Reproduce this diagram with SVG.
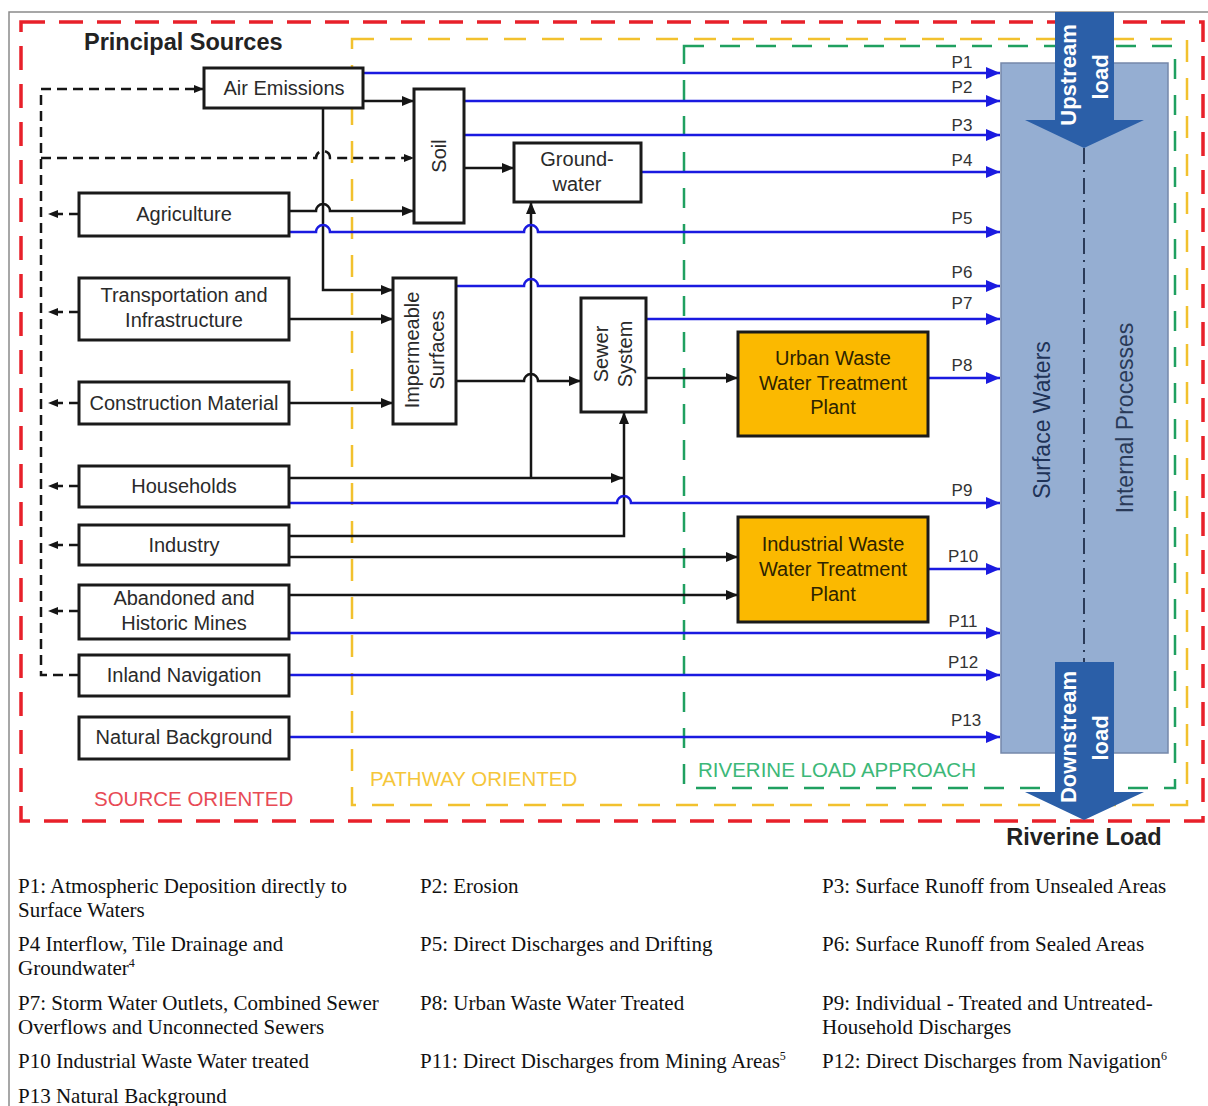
<svg xmlns="http://www.w3.org/2000/svg" width="1208" height="1106" viewBox="0 0 1208 1106">
<style>
.box{fill:#fff;stroke:#1a1a1a;stroke-width:3}
.plant{fill:#fbb900;stroke:#1a1a1a;stroke-width:3}
.t{font-family:"Liberation Sans",Arial,sans-serif;font-size:20px;fill:#2a2a2a;text-anchor:middle}
.tp{font-family:"Liberation Sans",Arial,sans-serif;font-size:20px;fill:#2e2300;text-anchor:middle}
.pl{font-family:"Liberation Sans",Arial,sans-serif;font-size:17px;fill:#333;text-anchor:middle}
.lg{font-family:"Liberation Serif","Times New Roman",serif;font-size:21px;fill:#111}
.k{fill:none;stroke:#151515;stroke-width:2.5}
.b{fill:none;stroke:#1a1ae0;stroke-width:2.5}
.d{fill:none;stroke:#151515;stroke-width:2.5;stroke-dasharray:10 6}
</style>
<defs>
<marker id="ak" viewBox="0 0 12 10" refX="12" refY="5" markerWidth="12" markerHeight="10" markerUnits="userSpaceOnUse" orient="auto"><path d="M0,0 L12,5 L0,10 z" fill="#151515"/></marker>
<marker id="ab" viewBox="0 0 14 12" refX="14" refY="6" markerWidth="14" markerHeight="12" markerUnits="userSpaceOnUse" orient="auto"><path d="M0,0 L14,6 L0,12 z" fill="#1a1ae0"/></marker>
<marker id="ad" viewBox="0 0 10 8" refX="10" refY="4" markerWidth="10" markerHeight="8" markerUnits="userSpaceOnUse" orient="auto"><path d="M0,0 L10,4 L0,8 z" fill="#151515"/></marker>
</defs>
<rect width="1208" height="1106" fill="#fff"/>
<rect x="9" y="12" width="1205" height="1100" fill="none" stroke="#8a8a8a" stroke-width="1.5"/>
<g id="frames" fill="none">
<rect x="21" y="22" width="1182" height="799" stroke="#e8202a" stroke-width="3.5" stroke-dasharray="24 14"/>
<rect x="352" y="39" width="835" height="766" stroke="#f2c12e" stroke-width="2.5" stroke-dasharray="22 16"/>
<rect x="684" y="46" width="491" height="742" stroke="#1fa060" stroke-width="2.5" stroke-dasharray="20 16"/>
</g>
<g id="surface-waters">
<rect x="1001" y="63" width="167" height="690" fill="#95aed2" stroke="#7688aa" stroke-width="1.5"/>
<path d="M1084 148 V662" fill="none" stroke="#2a3a58" stroke-width="2" stroke-dasharray="16 6 2 6"/>
<text transform="translate(1042,420) rotate(-90)" y="8" style="font-family:'Liberation Sans',Arial,sans-serif;font-size:23px;fill:#1f3358;text-anchor:middle">Surface Waters</text>
<text transform="translate(1125,418) rotate(-90)" y="8" style="font-family:'Liberation Sans',Arial,sans-serif;font-size:23px;fill:#2a3a58;text-anchor:middle">Internal Processes</text>
</g>
<g id="connectors">
<path class="k" d="M363 101 H414" marker-end="url(#ak)"/>
<path class="k" d="M323 108 V290 H393" marker-end="url(#ak)"/>
<path class="k" d="M289 211 H316 a7 7 0 0 1 14 0 H414" marker-end="url(#ak)"/>
<path class="k" d="M464 168 H514" marker-end="url(#ak)"/>
<path class="k" d="M289 319 H393" marker-end="url(#ak)"/>
<path class="k" d="M289 403 H393" marker-end="url(#ak)"/>
<path class="k" d="M456 381 H524 a7 7 0 0 1 14 0 H581" marker-end="url(#ak)"/>
<path class="k" d="M289 478 H623" marker-end="url(#ak)"/>
<path class="k" d="M531 478 V202" marker-end="url(#ak)"/>
<path class="k" d="M289 536 H624 V412" marker-end="url(#ak)"/>
<path class="k" d="M289 557 H738" marker-end="url(#ak)"/>
<path class="k" d="M289 595 H738" marker-end="url(#ak)"/>
<path class="k" d="M646 378 H738" marker-end="url(#ak)"/>
<path class="b" d="M363 73 H1000" marker-end="url(#ab)"/>
<path class="b" d="M464 101 H1000" marker-end="url(#ab)"/>
<path class="b" d="M464 135 H1000" marker-end="url(#ab)"/>
<path class="b" d="M641 172 H1000" marker-end="url(#ab)"/>
<path class="b" d="M289 232 H316 a7 7 0 0 1 14 0 H524 a7 7 0 0 1 14 0 H1000" marker-end="url(#ab)"/>
<path class="b" d="M456 286 H524 a7 7 0 0 1 14 0 H1000" marker-end="url(#ab)"/>
<path class="b" d="M646 319 H1000" marker-end="url(#ab)"/>
<path class="b" d="M928 378 H1000" marker-end="url(#ab)"/>
<path class="b" d="M289 503 H617 a7 7 0 0 1 14 0 H1000" marker-end="url(#ab)"/>
<path class="b" d="M928 569 H1000" marker-end="url(#ab)"/>
<path class="b" d="M289 633 H1000" marker-end="url(#ab)"/>
<path class="b" d="M289 675 H1000" marker-end="url(#ab)"/>
<path class="b" d="M289 737 H1000" marker-end="url(#ab)"/>
<path class="d" d="M79 675 H41 V89 H204" marker-end="url(#ad)"/>
<path class="d" d="M41 158 H316 a7 7 0 0 1 14 0 H414" marker-end="url(#ad)"/>
<path class="d" d="M79 214 H48" marker-end="url(#ad)"/>
<path class="d" d="M79 312 H48" marker-end="url(#ad)"/>
<path class="d" d="M79 403 H48" marker-end="url(#ad)"/>
<path class="d" d="M79 486 H48" marker-end="url(#ad)"/>
<path class="d" d="M79 545 H48" marker-end="url(#ad)"/>
<path class="d" d="M79 611 H48" marker-end="url(#ad)"/>
<text class="pl" x="962" y="68">P1</text>
<text class="pl" x="962" y="93">P2</text>
<text class="pl" x="962" y="131">P3</text>
<text class="pl" x="962" y="166">P4</text>
<text class="pl" x="962" y="224">P5</text>
<text class="pl" x="962" y="278">P6</text>
<text class="pl" x="962" y="309">P7</text>
<text class="pl" x="962" y="371">P8</text>
<text class="pl" x="962" y="496">P9</text>
<text class="pl" x="963" y="562">P10</text>
<text class="pl" x="963" y="627">P11</text>
<text class="pl" x="963" y="668">P12</text>
<text class="pl" x="966" y="726">P13</text>
</g>
<g id="air-emissions"><rect class="box" x="204" y="68" width="159" height="40"/><text class="t" x="284" y="95">Air Emissions</text></g>
<g id="agriculture"><rect class="box" x="79" y="193" width="210" height="43"/><text class="t" x="184" y="221">Agriculture</text></g>
<g id="transportation"><rect class="box" x="79" y="278" width="210" height="62"/><text class="t" x="184" y="302">Transportation and</text><text class="t" x="184" y="327">Infrastructure</text></g>
<g id="construction"><rect class="box" x="79" y="382" width="210" height="42"/><text class="t" x="184" y="410">Construction Material</text></g>
<g id="households"><rect class="box" x="79" y="466" width="210" height="41"/><text class="t" x="184" y="493">Households</text></g>
<g id="industry"><rect class="box" x="79" y="525" width="210" height="40"/><text class="t" x="184" y="552">Industry</text></g>
<g id="mines"><rect class="box" x="79" y="585" width="210" height="54"/><text class="t" x="184" y="605">Abandoned and</text><text class="t" x="184" y="630">Historic Mines</text></g>
<g id="navigation"><rect class="box" x="79" y="655" width="210" height="41"/><text class="t" x="184" y="682">Inland Navigation</text></g>
<g id="natural"><rect class="box" x="79" y="717" width="210" height="42"/><text class="t" x="184" y="744">Natural Background</text></g>
<g id="soil"><rect class="box" x="414" y="89" width="50" height="134"/><text class="t" transform="translate(439,156) rotate(-90)" y="7">Soil</text></g>
<g id="groundwater"><rect class="box" x="514" y="143" width="127" height="59"/><text class="t" x="577" y="166">Ground-</text><text class="t" x="577" y="191">water</text></g>
<g id="impermeable"><rect class="box" x="393" y="278" width="63" height="146"/><text class="t" transform="translate(412,350) rotate(-90)" y="7">Impermeable</text><text class="t" transform="translate(437,350) rotate(-90)" y="7">Surfaces</text></g>
<g id="sewer"><rect class="box" x="581" y="298" width="65" height="114"/><text class="t" transform="translate(601,354) rotate(-90)" y="7">Sewer</text><text class="t" transform="translate(625,354) rotate(-90)" y="7">System</text></g>
<g id="uwwtp"><rect class="plant" x="738" y="332" width="190" height="104"/><text class="tp" x="833" y="365">Urban Waste</text><text class="tp" x="833" y="390">Water Treatment</text><text class="tp" x="833" y="414">Plant</text></g>
<g id="iwwtp"><rect class="plant" x="738" y="517" width="190" height="105"/><text class="tp" x="833" y="551">Industrial Waste</text><text class="tp" x="833" y="576">Water Treatment</text><text class="tp" x="833" y="601">Plant</text></g>
<g id="upstream">
<path d="M1055 12 H1114 V120 H1144 L1084 148 L1025 120 H1055 Z" fill="#2b5fa8"/>
<text transform="translate(1068,75) rotate(-90)" y="8" style="font-family:'Liberation Sans',Arial,sans-serif;font-size:22px;font-weight:bold;fill:#fff;text-anchor:middle">Upstream</text>
<text transform="translate(1100,77) rotate(-90)" y="8" style="font-family:'Liberation Sans',Arial,sans-serif;font-size:22px;font-weight:bold;fill:#fff;text-anchor:middle">load</text>
</g>
<g id="downstream">
<path d="M1055 662 H1114 V792 H1144 L1084 820 L1025 792 H1055 Z" fill="#2b5fa8"/>
<text transform="translate(1068,737) rotate(-90)" y="8" style="font-family:'Liberation Sans',Arial,sans-serif;font-size:22px;font-weight:bold;fill:#fff;text-anchor:middle">Downstream</text>
<text transform="translate(1100,738) rotate(-90)" y="8" style="font-family:'Liberation Sans',Arial,sans-serif;font-size:22px;font-weight:bold;fill:#fff;text-anchor:middle">load</text>
</g>
<g id="titles" style="font-family:'Liberation Sans',Arial,sans-serif">
<text x="84" y="50" style="font-size:23.5px;font-weight:bold;fill:#222">Principal Sources</text>
<text x="1084" y="845" style="font-size:23.5px;font-weight:bold;fill:#222;text-anchor:middle">Riverine Load</text>
<text x="94" y="806" style="font-size:20.5px;fill:#e84a55">SOURCE ORIENTED</text>
<text x="370" y="786" style="font-size:20.5px;fill:#f5c63a">PATHWAY ORIENTED</text>
<text x="698" y="777" style="font-size:20.5px;fill:#3cb878">RIVERINE LOAD APPROACH</text>
</g>
<g id="legend" class="lg">
<text class="lg" x="18" y="893">P1: Atmospheric Deposition  directly to</text>
<text class="lg" x="18" y="917">Surface Waters</text>
<text class="lg" x="420" y="893">P2: Erosion</text>
<text class="lg" x="822" y="893">P3: Surface Runoff from Unsealed Areas</text>
<text class="lg" x="18" y="951">P4 Interflow, Tile Drainage and</text>
<text class="lg" x="18" y="975">Groundwater<tspan dy="-8" font-size="12">4</tspan></text>
<text class="lg" x="420" y="951">P5: Direct Discharges and Drifting</text>
<text class="lg" x="822" y="951">P6: Surface Runoff from Sealed Areas</text>
<text class="lg" x="18" y="1010">P7: Storm Water Outlets, Combined Sewer</text>
<text class="lg" x="18" y="1034">Overflows  and Unconnected Sewers</text>
<text class="lg" x="420" y="1010">P8: Urban Waste Water Treated</text>
<text class="lg" x="822" y="1010">P9: Individual - Treated and Untreated-</text>
<text class="lg" x="822" y="1034">Household Discharges</text>
<text class="lg" x="18" y="1068">P10 Industrial Waste Water treated</text>
<text class="lg" x="420" y="1068">P11: Direct Discharges from Mining Areas<tspan dy="-8" font-size="12">5</tspan></text>
<text class="lg" x="822" y="1068">P12: Direct Discharges from Navigation<tspan dy="-8" font-size="12">6</tspan></text>
<text class="lg" x="18" y="1103">P13 Natural Background</text>
</g>
</svg>
